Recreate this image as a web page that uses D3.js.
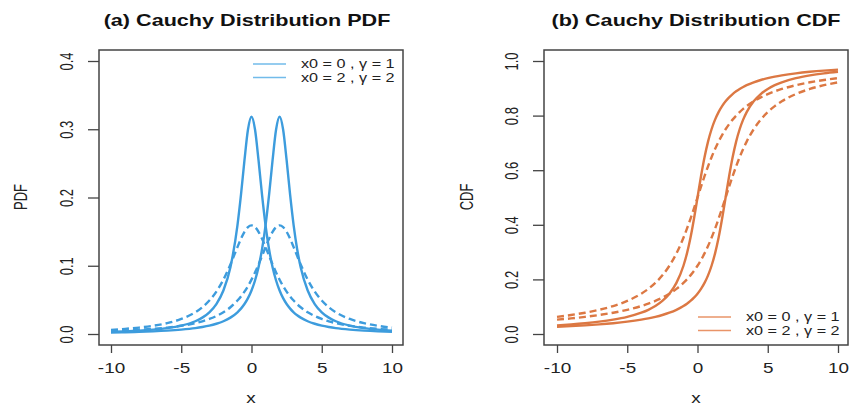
<!DOCTYPE html>
<html><head><meta charset="utf-8">
<script src="https://cdn.jsdelivr.net/npm/d3@7"></script>
<style>body{margin:0;background:#fff}svg{display:block}text{font-family:"Liberation Sans",Arial,sans-serif}</style>
</head><body>
<svg id="c" width="849" height="405"></svg>
<script>
// x grid shared by all curves
const xs = [-10,-9,-8,-7,-6,-5,-4,-3.5,-3,-2.5,-2,-1.5,-1,-0.75,-0.5,-0.25,0,0.25,0.5,0.75,1,1.25,1.5,1.75,2,2.25,2.5,2.75,3,3.25,3.5,4,4.5,5,5.5,6,7,8,9,10];
// PDF series
const pdfLoc0Sc1 = [0.0032,0.0039,0.0049,0.0064,0.0086,0.0122,0.0187,0.0240,0.0318,0.0439,0.0637,0.0979,0.1592,0.2037,0.2546,0.2996,0.3183,0.2996,0.2546,0.2037,0.1592,0.1242,0.0979,0.0784,0.0637,0.0525,0.0439,0.0372,0.0318,0.0275,0.0240,0.0187,0.0150,0.0122,0.0102,0.0086,0.0064,0.0049,0.0039,0.0032];
const pdfLoc2Sc1 = [0.0022,0.0026,0.0032,0.0039,0.0049,0.0064,0.0086,0.0102,0.0122,0.0150,0.0187,0.0240,0.0318,0.0372,0.0439,0.0525,0.0637,0.0784,0.0979,0.1242,0.1592,0.2037,0.2546,0.2996,0.3183,0.2996,0.2546,0.2037,0.1592,0.1242,0.0979,0.0637,0.0439,0.0318,0.0240,0.0187,0.0122,0.0086,0.0064,0.0049];
const pdfLoc0Sc2 = [0.0061,0.0075,0.0094,0.0120,0.0159,0.0220,0.0318,0.0392,0.0490,0.0621,0.0796,0.1019,0.1273,0.1395,0.1498,0.1567,0.1592,0.1567,0.1498,0.1395,0.1273,0.1144,0.1019,0.0901,0.0796,0.0702,0.0621,0.0551,0.0490,0.0437,0.0392,0.0318,0.0263,0.0220,0.0186,0.0159,0.0120,0.0094,0.0075,0.0061];
const pdfLoc2Sc2 = [0.0043,0.0051,0.0061,0.0075,0.0094,0.0120,0.0159,0.0186,0.0220,0.0263,0.0318,0.0392,0.0490,0.0551,0.0621,0.0702,0.0796,0.0901,0.1019,0.1144,0.1273,0.1395,0.1498,0.1567,0.1592,0.1567,0.1498,0.1395,0.1273,0.1144,0.1019,0.0796,0.0621,0.0490,0.0392,0.0318,0.0220,0.0159,0.0120,0.0094];
// CDF series
const cdfLoc0Sc1 = [0.0317,0.0352,0.0396,0.0452,0.0526,0.0628,0.0780,0.0886,0.1024,0.1211,0.1476,0.1872,0.2500,0.2952,0.3524,0.4220,0.5000,0.5780,0.6476,0.7048,0.7500,0.7852,0.8128,0.8348,0.8524,0.8669,0.8789,0.8890,0.8976,0.9050,0.9114,0.9220,0.9304,0.9372,0.9428,0.9474,0.9548,0.9604,0.9648,0.9683];
const cdfLoc2Sc1 = [0.0265,0.0289,0.0317,0.0352,0.0396,0.0452,0.0526,0.0572,0.0628,0.0696,0.0780,0.0886,0.1024,0.1110,0.1211,0.1331,0.1476,0.1653,0.1872,0.2148,0.2500,0.2952,0.3524,0.4220,0.5000,0.5780,0.6476,0.7048,0.7500,0.7852,0.8128,0.8524,0.8789,0.8976,0.9114,0.9220,0.9372,0.9474,0.9548,0.9604];
const cdfLoc0Sc2 = [0.0628,0.0696,0.0780,0.0886,0.1024,0.1211,0.1476,0.1653,0.1872,0.2148,0.2500,0.2952,0.3524,0.3858,0.4220,0.4604,0.5000,0.5396,0.5780,0.6142,0.6476,0.6778,0.7048,0.7288,0.7500,0.7687,0.7852,0.7998,0.8128,0.8244,0.8348,0.8524,0.8669,0.8789,0.8890,0.8976,0.9114,0.9220,0.9304,0.9372];
const cdfLoc2Sc2 = [0.0526,0.0572,0.0628,0.0696,0.0780,0.0886,0.1024,0.1110,0.1211,0.1331,0.1476,0.1653,0.1872,0.2002,0.2148,0.2313,0.2500,0.2712,0.2952,0.3222,0.3524,0.3858,0.4220,0.4604,0.5000,0.5396,0.5780,0.6142,0.6476,0.6778,0.7048,0.7500,0.7852,0.8128,0.8348,0.8524,0.8789,0.8976,0.9114,0.9220];
// tick labels
const xTicks = [-10,-5,0,5,10];
const pdfTicks = [0.0,0.1,0.2,0.3,0.4];
const cdfTicks = [0.0,0.2,0.4,0.6,0.8,1.0];
const legendLabels = ["x0 = 0 , \u03b3 = 1","x0 = 2 , \u03b3 = 2"];

const svg = d3.select("#c");
const SX = 1.35;

function label(g, x, y, str, opt) {
  opt = opt || {};
  const t = g.append("text")
    .attr("transform", `translate(${x},${y}) scale(${SX},1)` + (opt.rot ? " rotate(-90)" : ""))
    .attr("text-anchor", opt.anchor || "middle")
    .attr("font-size", opt.size || 14)
    .attr("fill", opt.fill || "#222")
    .text(str);
  if (opt.bold) t.attr("font-weight", "bold");
  if (opt.dy) t.attr("dy", opt.dy);
  return t;
}

function panel(cfg) {
  const g = svg.append("g");
  const x = d3.scaleLinear().domain([-10,10]).range(cfg.xr);
  const y = d3.scaleLinear().domain(cfg.ydom).range([334,61]);
  const box = {l: cfg.box[0], r: cfg.box[1], t: 50, b: 345};

  // axes via d3
  const ax = g.append("g").attr("transform", `translate(0,${box.b})`)
    .call(d3.axisBottom(x).tickValues(xTicks).tickSize(8).tickFormat(d3.format("d")));
  ax.select(".domain").remove();
  ax.selectAll("line").attr("stroke","#444").attr("stroke-width",1.3);
  ax.selectAll("text").attr("y",0).attr("dy",0)
    .attr("transform", `translate(0,28) scale(${SX},1)`)
    .attr("font-size",14).attr("fill","#222").attr("font-family","Liberation Sans, Arial, sans-serif")
    .text(d => d < 0 ? "-" + Math.abs(d) : d);

  const ay = g.append("g").attr("transform", `translate(${box.l},0)`)
    .call(d3.axisLeft(y).tickValues(cfg.ticks).tickSize(11).tickFormat(d3.format(".1f")));
  ay.select(".domain").remove();
  ay.selectAll("line").attr("stroke","#444").attr("stroke-width",1.3);
  ay.selectAll("text").attr("x",0).attr("dy",0)
    .attr("transform", `translate(-26,0) scale(${SX},1) rotate(-90)`)
    .attr("text-anchor","middle")
    .attr("font-size",13).attr("fill","#222").attr("font-family","Liberation Sans, Arial, sans-serif");

  // box
  g.append("rect").attr("x",box.l).attr("y",box.t)
    .attr("width",box.r-box.l).attr("height",box.b-box.t)
    .attr("fill","none").attr("stroke","#444").attr("stroke-width",1.5);

  // curves
  const line = d3.line().x((d,i)=>x(xs[i])).y(d=>y(d)).curve(d3.curveMonotoneX);
  cfg.series.forEach(s => {
    g.append("path").datum(s.v).attr("d", line)
      .attr("fill","none").attr("stroke", cfg.color).attr("stroke-width", 2.4)
      .attr("stroke-dasharray", s.dash ? "7,4" : null)
      .attr("stroke-linejoin","round");
  });

  // legend
  legendLabels.forEach((t,i) => {
    const ly = cfg.leg[1] + i*13.5;
    g.append("line").attr("x1",cfg.leg[0]).attr("x2",cfg.leg[0]+33)
      .attr("y1",ly).attr("y2",ly).attr("stroke",cfg.legColor).attr("stroke-width",1.3);
    label(g, cfg.leg[0]+48, ly, t, {anchor:"start", size:12, dy:"0.35em"});
  });

  // titles
  const cx = (box.l+box.r)/2;
  label(g, cfg.titleX, 26, cfg.title, {bold:true, size:16, fill:"#111"});
  label(g, cx, 403, "x", {size:14});
  label(g, cfg.ylabX, 197, cfg.ylab, {rot:true, size:13});
}

panel({
  xr:[111,392], box:[99,403], ydom:[0,0.4], ticks:pdfTicks, color:"#3d9cdd", legColor:"#72bbea",
  series:[{v:pdfLoc0Sc1},{v:pdfLoc2Sc1},{v:pdfLoc0Sc2,dash:true},{v:pdfLoc2Sc2,dash:true}],
  leg:[253,64], title:"(a) Cauchy Distribution PDF", titleX:247, ylab:"PDF", ylabX:27
});
panel({
  xr:[557,838], box:[544,848], ydom:[0,1], ticks:cdfTicks, color:"#dc7843", legColor:"#e99468",
  series:[{v:cdfLoc0Sc1},{v:cdfLoc2Sc1},{v:cdfLoc0Sc2,dash:true},{v:cdfLoc2Sc2,dash:true}],
  leg:[698,317], title:"(b) Cauchy Distribution CDF", titleX:696, ylab:"CDF", ylabX:473
});
</script>
</body></html>
